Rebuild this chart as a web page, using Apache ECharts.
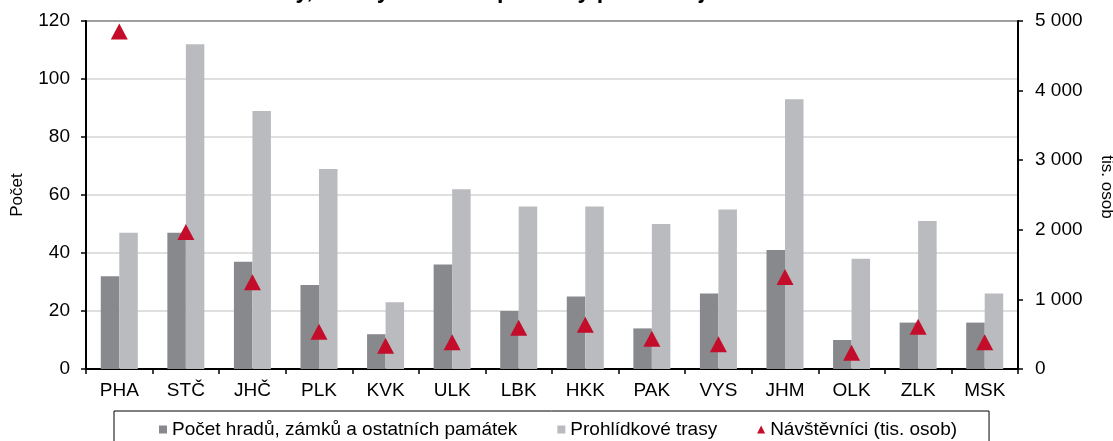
<!DOCTYPE html>
<html>
<head>
<meta charset="utf-8">
<script src="https://cdn.jsdelivr.net/npm/echarts@6/dist/echarts.min.js"></script>
<style>
html,body{margin:0;padding:0;background:#fff;}
#chart{width:1113px;height:441px;}
</style>
</head>
<body>
<div id="chart"></div>
<script>
const titleText = 'Hrady, zámky a ostatní památky podle krajů';
const categories = ['PHA','STČ','JHČ','PLK','KVK','ULK','LBK','HKK','PAK','VYS','JHM','OLK','ZLK','MSK'];
const pamatky = [32, 47, 37, 29, 12, 36, 20, 25, 14, 26, 41, 10, 16, 16];
const trasy = [47, 112, 89, 69, 23, 62, 56, 56, 50, 55, 93, 38, 51, 26];
const navstevnici = [4850, 1970, 1245, 536, 335, 383, 594, 637, 436, 355, 1322, 234, 608, 383];
const seriesNames = ['Počet hradů, zámků a ostatních památek', 'Prohlídkové trasy', 'Návštěvníci (tis. osob)'];
const leftAxisName = 'Počet';
const rightAxisName = 'tis. osob';

const FONT = '"Liberation Sans", Arial, sans-serif';
const chart = echarts.init(document.getElementById('chart'));
const fmtThousands = v => String(v).replace(/\B(?=(\d{3})+(?!\d))/g, '\u00a0');

chart.setOption({
  animation: false,
  textStyle: { fontFamily: FONT, color: '#000' },
  title: {
    text: titleText,
    left: 243,
    top: -20,
    padding: 0,
    textStyle: { fontFamily: FONT, fontSize: 23, fontWeight: 'bold', color: '#000' }
  },
  grid: {
    left: 86, right: 95, top: 21, bottom: 72,
    outerBoundsMode: 'none',
    containLabel: false,
    show: true, borderColor: '#000', borderWidth: 2, backgroundColor: 'transparent'
  },
  legend: {
    left: 114,
    top: 411,
    orient: 'horizontal',
    padding: [9, 32, 40, 45],
    borderColor: '#000',
    borderWidth: 1,
    itemGap: 40,
    itemWidth: 8,
    itemHeight: 8,
    textStyle: { fontFamily: FONT, fontSize: 19, color: '#000' },
    data: [
      { name: seriesNames[0], icon: 'rect' },
      { name: seriesNames[1], icon: 'rect' },
      { name: seriesNames[2], icon: 'triangle' }
    ]
  },
  xAxis: {
    type: 'category',
    data: categories,
    axisLine: { lineStyle: { color: '#000', width: 2 } },
    axisTick: { show: true, length: 5, inside: false, lineStyle: { color: '#000', width: 1.5 } },
    axisLabel: { fontFamily: FONT, fontSize: 19, color: '#000', margin: 12 }
  },
  yAxis: [
    {
      type: 'value',
      min: 0, max: 120, interval: 20,
      name: leftAxisName,
      nameLocation: 'middle',
      nameGap: 60,
      nameRotate: 90,
      nameTextStyle: { fontFamily: FONT, fontSize: 17, color: '#000' },
      axisLine: { show: true, lineStyle: { color: '#000', width: 2 } },
      axisTick: { show: true, length: 5, lineStyle: { color: '#000', width: 1.5 } },
      axisLabel: { fontFamily: FONT, fontSize: 19, color: '#000', margin: 16 },
      splitLine: { show: true, lineStyle: { color: '#d4d4d4', width: 1.5 } }
    },
    {
      type: 'value',
      min: 0, max: 5000, interval: 1000,
      position: 'right',
      name: rightAxisName,
      nameLocation: 'middle',
      nameGap: 80,
      nameRotate: -90,
      nameTextStyle: { fontFamily: FONT, fontSize: 17, color: '#000', padding: [0, 16, 0, 0] },
      axisLine: { show: true, lineStyle: { color: '#000', width: 2 } },
      axisTick: { show: true, length: 5, lineStyle: { color: '#000', width: 1.5 } },
      axisLabel: { fontFamily: FONT, fontSize: 19, color: '#000', margin: 17, formatter: fmtThousands },
      splitLine: { show: false }
    }
  ],
  series: [
    {
      name: seriesNames[0],
      type: 'bar',
      data: pamatky,
      barWidth: 18.5,
      barGap: '0%',
      itemStyle: { color: '#87898d' }
    },
    {
      name: seriesNames[1],
      type: 'bar',
      data: trasy,
      barWidth: 18.5,
      barGap: '0%',
      itemStyle: { color: '#b9bbbf' }
    },
    {
      name: seriesNames[2],
      type: 'scatter',
      yAxisIndex: 1,
      data: navstevnici,
      symbol: 'triangle',
      symbolSize: [17, 16],
      itemStyle: { color: '#c40d2a', opacity: 1 },
      z: 5
    }
  ]
});
</script>
</body>
</html>
